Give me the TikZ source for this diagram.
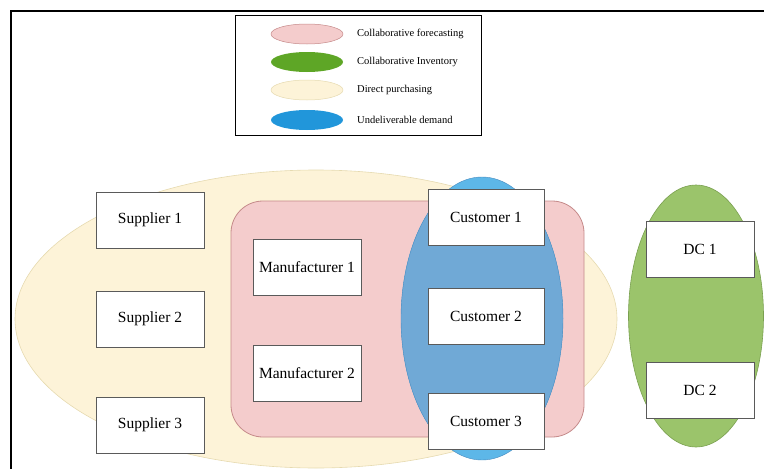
\documentclass[tikz,border=0pt]{standalone}
\usepackage{fontspec}
\setmainfont{Liberation Serif}
\usetikzlibrary{shapes.geometric}
\definecolor{cream}{HTML}{FDF3D8}
\definecolor{creamline}{HTML}{E6DAB0}
\definecolor{pinkfill}{HTML}{F4CCCC}
\definecolor{pinkline}{HTML}{C58A8A}
\definecolor{skyblue}{HTML}{5DB7E8}
\definecolor{steelblue}{HTML}{70A9D6}
\definecolor{blueline}{HTML}{4A8CC0}
\definecolor{greenfill}{HTML}{9BC46B}
\definecolor{greenline}{HTML}{7AA050}
\definecolor{leggreen}{HTML}{5EA626}
\definecolor{legblue}{HTML}{2196DA}
\definecolor{boxline}{HTML}{5A5A5A}
\tikzset{
  entity/.style={draw=boxline, line width=0.9pt, fill=white, minimum width=108pt, minimum height=56pt, inner sep=0pt, font=\fontsize{15.5}{17}\selectfont},
  custbox/.style={entity, minimum width=116pt},
  legell/.style={ellipse, minimum width=72pt, minimum height=20pt, inner sep=0pt},
  legtext/.style={anchor=west, inner sep=0pt, font=\fontsize{10.5}{12}\selectfont}
}
\begin{document}
\begin{tikzpicture}[x=1pt, y=-1pt]
\useasboundingbox (0,0) rectangle (764,469);
% frame
\draw[line width=2pt, black] (11,470) -- (11,11) -- (765,11);
% legend
\node[draw=black, line width=0.8pt, minimum width=246pt, minimum height=120pt, inner sep=0pt] (legend) at (358,75) {};
\node[legell, fill=pinkfill, draw=pinkline, line width=0.5pt] (lp) at (307,34) {};
\node[legell, fill=leggreen] (lg) at (307,62) {};
\node[legell, fill=cream, draw=creamline, line width=0.5pt] (ly) at (307,90) {};
\node[legell, fill=legblue] (lb) at (307,120) {};
\node[legtext] (tp) at (357,34) {Collaborative forecasting};
\node[legtext] (tg) at (357,62) {Collaborative Inventory};
\node[legtext] (ty) at (357,90) {Direct purchasing};
\node[legtext] (tb) at (357,120) {Undeliverable demand};
% regions
\fill[cream] (316,319) ellipse [x radius=301, y radius=149];
\draw[creamline, line width=0.6pt] (316,319) ellipse [x radius=301, y radius=149];
\draw[pinkline, fill=pinkfill, line width=0.8pt, rounded corners=32pt] (231,201) rectangle (584,437);
\fill[skyblue] (482,318.5) ellipse [x radius=81, y radius=141.5];
\begin{scope}
  \clip[rounded corners=32pt] (231,201) rectangle (584,437);
  \fill[steelblue] (482,318.5) ellipse [x radius=81, y radius=141.5];
\end{scope}
\draw[blueline, line width=0.4pt] (482,318.5) ellipse [x radius=81, y radius=141.5];
\draw[greenline, fill=greenfill, line width=0.6pt] (696,316) ellipse [x radius=67.5, y radius=131];
% entities
\node[entity] (s1) at (150,220) {Supplier 1};
\node[entity] (s2) at (150,319) {Supplier 2};
\node[entity] (s3) at (150,425) {Supplier 3};
\node[entity] (m1) at (307,267) {Manufacturer 1};
\node[entity] (m2) at (307,373) {Manufacturer 2};
\node[custbox] (c1) at (486,217.5) {Customer 1};
\node[custbox] (c2) at (486,316) {Customer 2};
\node[custbox] (c3) at (486,421.5) {Customer 3};
\node[entity] (d1) at (700,249) {DC 1};
\node[entity] (d2) at (700,390) {DC 2};
\end{tikzpicture}
\end{document}
